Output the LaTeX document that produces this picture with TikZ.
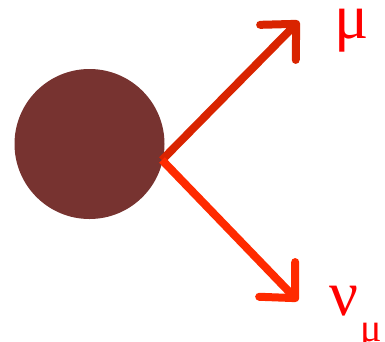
\documentclass[tikz,border=0pt]{standalone}
\usepackage{fontspec}
\setmainfont{Liberation Serif}
\usetikzlibrary{arrows.meta}
\definecolor{ballbrown}{HTML}{773330}
\definecolor{darkarrow}{HTML}{D92400}
\definecolor{lightarrow}{HTML}{FF2A00}
\definecolor{labelred}{HTML}{FF0000}

\begin{document}
\begin{tikzpicture}[x=1pt, y=-1pt,
  decay/.style={line width=8pt, -{Straight Barb[length=26pt, width=50pt, round]}},
  particle/.style={text=labelred, font=\fontsize{64}{64}\selectfont, inner sep=0pt}]
  \useasboundingbox (0,0) rectangle (385,341);

  % meson
  \node[circle, fill=ballbrown, minimum size=150pt, inner sep=0pt] (ball) at (89.5,144) {};
  \coordinate (vtx) at (162,160);
  \coordinate (mutip) at (299,21);
  \coordinate (nutip) at (298,301);

  % decay products
  \draw[decay, darkarrow] (vtx) -- (mutip);
  \draw[decay, lightarrow] (vtx) -- (nutip);

  \node[particle, anchor=base west] (mu) at (334,38) {μ};
  \node[particle, anchor=base west] (numu) at (329,315) {ν\kern2pt\raisebox{-0.42em}{\fontsize{40}{40}\selectfont μ}};
\end{tikzpicture}
\end{document}
